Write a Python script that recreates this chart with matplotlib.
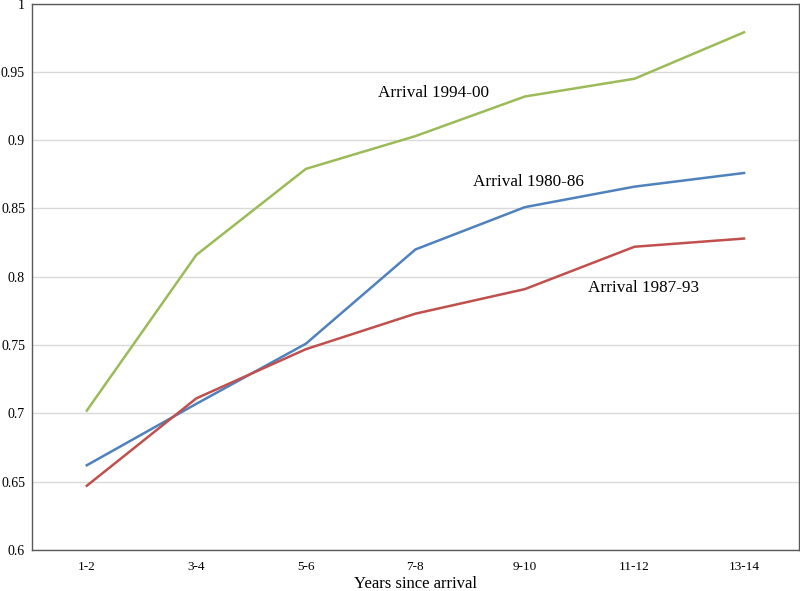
import numpy as np
import matplotlib
matplotlib.use("Agg")
import matplotlib.pyplot as plt

plt.rcParams['font.family'] = ['Liberation Serif', 'DejaVu Serif']

categories = ['1-2', '3-4', '5-6', '7-8', '9-10', '11-12', '13-14']
arrival_1994_00 = [0.702, 0.816, 0.879, 0.903, 0.932, 0.945, 0.979]
arrival_1980_86 = [0.662, 0.707, 0.751, 0.820, 0.851, 0.866, 0.876]
arrival_1987_93 = [0.647, 0.711, 0.747, 0.773, 0.791, 0.822, 0.828]

fig = plt.figure(figsize=(8, 5.91), dpi=100)
ax = fig.add_axes([0.04, 0.0694, 0.9585, 0.9245])

x = np.arange(len(categories))
ax.plot(x, arrival_1994_00, color='#9BBB59', lw=1.8)
ax.plot(x, arrival_1980_86, color='#4F81BD', lw=1.8)
ax.plot(x, arrival_1987_93, color='#C0504D', lw=1.8)

ax.text(2.66, 0.9345, 'Arrival 1994-00', fontsize=12.3, ha='left', va='center')
ax.text(3.53, 0.8697, 'Arrival 1980-86', fontsize=12.3, ha='left', va='center')
ax.text(4.58, 0.7918, 'Arrival 1987-93', fontsize=12.3, ha='left', va='center')

ax.set_xlim(-0.5, 6.5)
ax.set_ylim(0.6, 1.0)
ax.set_xticks(x)
ax.set_xticklabels(categories, fontsize=9.5)
yt = np.arange(0.6, 1.001, 0.05)
ax.set_yticks(yt)
ax.set_yticklabels(['0.6', '0.65', '0.7', '0.75', '0.8', '0.85', '0.9', '0.95', '1'], fontsize=10)
ax.tick_params(axis='both', length=0)
ax.tick_params(axis='y', pad=5)
ax.tick_params(axis='x', pad=8)
ax.yaxis.grid(True, color='#D9D9D9', lw=1)
ax.set_axisbelow(True)
for s in ax.spines.values():
    s.set_color('#595959')
    s.set_linewidth(1)

ax.set_xlabel('Years since arrival', fontsize=12, labelpad=2)

fig.savefig('out.png', dpi=100)
